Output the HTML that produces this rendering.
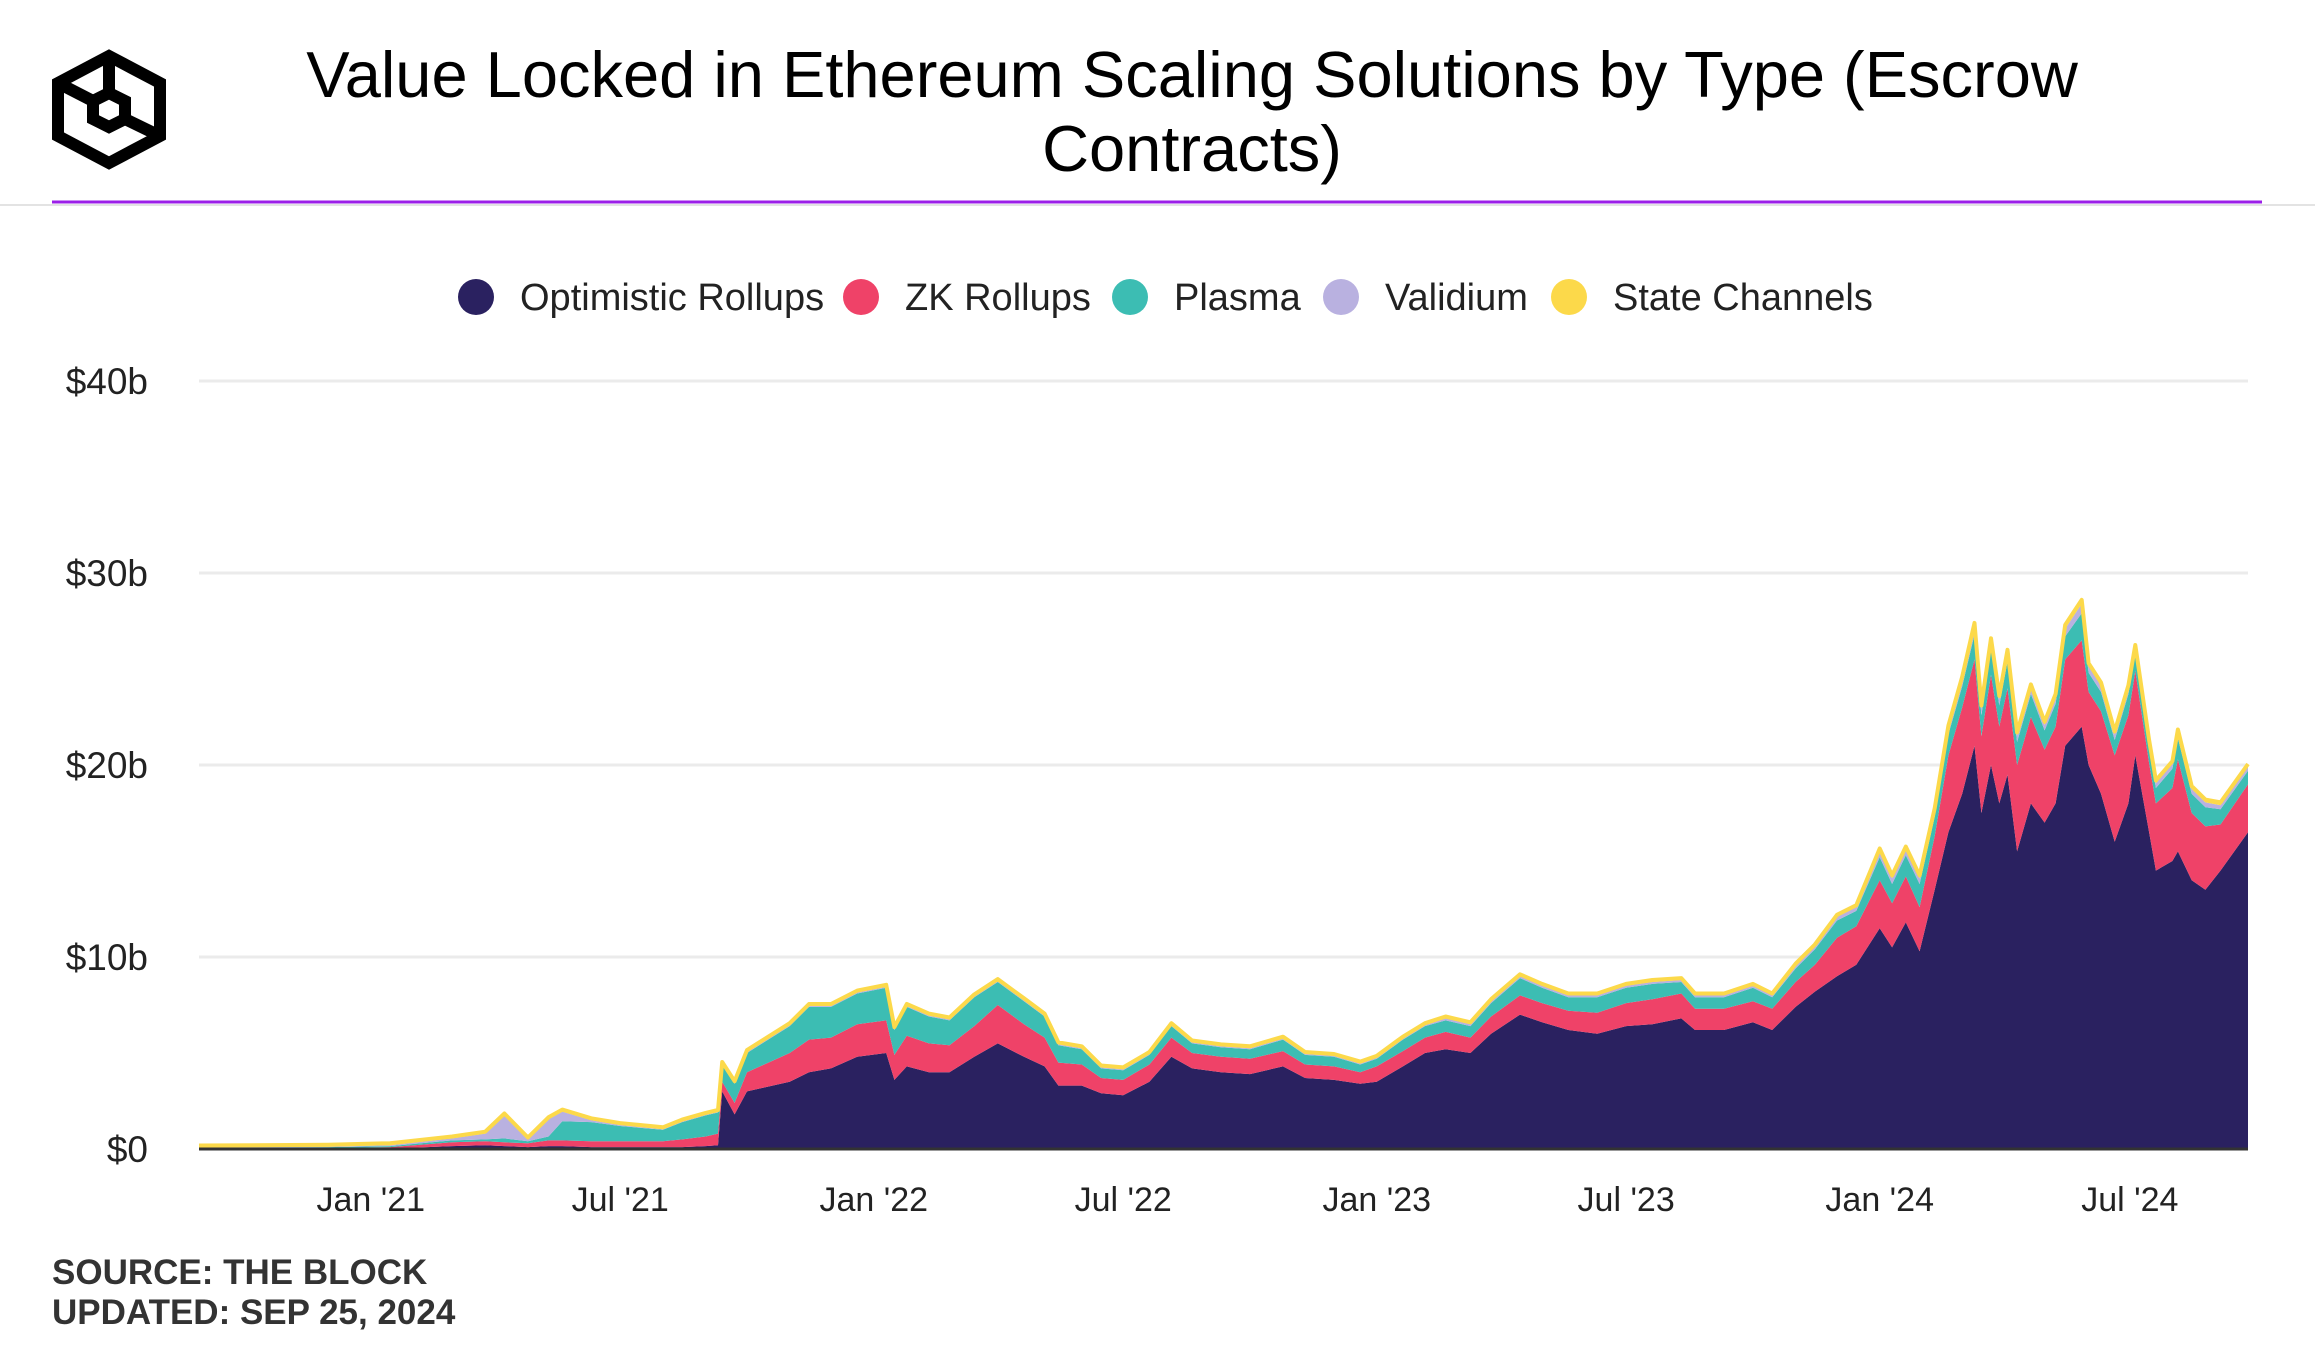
<!DOCTYPE html>
<html><head><meta charset="utf-8"><style>
body{margin:0;width:2315px;height:1350px;background:#fff;overflow:hidden;font-family:"Liberation Sans",sans-serif;}
svg{display:block}
</style></head><body>
<svg id="chart" width="2315" height="1350" viewBox="0 0 2315 1350">
<g fill="none" stroke="#000" stroke-width="12" stroke-linejoin="miter">
<polygon points="109,56 160,83 160,136 109,163 58,136 58,83"/>
<polygon points="109,93 125,101 125,119 109,127 93,119 93,101"/>
<line x1="109" y1="56" x2="109" y2="93"/><line x1="58" y1="83" x2="93" y2="101"/><line x1="160" y1="136" x2="125" y2="119"/>
</g>
<text x="1192" y="97" font-size="65" text-anchor="middle" fill="#000">Value Locked in Ethereum Scaling Solutions by Type (Escrow</text>
<text x="1192" y="171" font-size="65" text-anchor="middle" fill="#000">Contracts)</text>
<line x1="0" y1="205" x2="2315" y2="205" stroke="#e3e3e3" stroke-width="2"/>
<line x1="52" y1="202" x2="2262" y2="202" stroke="#9b1fe8" stroke-width="3"/>
<g id="legend" fill="#222"></g>
<g id="grid"></g>
<g id="areas"></g>
<g id="xaxis"></g>
<g id="yaxis"></g>
<text x="52" y="1284" font-size="35" font-weight="bold" fill="#333">SOURCE: THE BLOCK</text>
<text x="52" y="1324" font-size="35" font-weight="bold" fill="#333">UPDATED: SEP 25, 2024</text>
</svg>
<script>
const dates=["2020-08-29","2020-12-01","2021-01-15","2021-03-01","2021-03-25","2021-04-08","2021-04-25","2021-05-10","2021-05-20","2021-06-10","2021-07-01","2021-08-01","2021-08-15","2021-09-01","2021-09-10","2021-09-13","2021-09-22","2021-10-01","2021-11-01","2021-11-15","2021-12-01","2021-12-20","2022-01-10","2022-01-16","2022-01-25","2022-02-10","2022-02-25","2022-03-15","2022-04-01","2022-04-20","2022-05-05","2022-05-15","2022-06-01","2022-06-15","2022-07-01","2022-07-20","2022-08-05","2022-08-20","2022-09-10","2022-10-01","2022-10-25","2022-11-10","2022-12-01","2022-12-20","2023-01-01","2023-01-20","2023-02-05","2023-02-20","2023-03-10","2023-03-25","2023-04-15","2023-05-01","2023-05-20","2023-06-10","2023-07-01","2023-07-20","2023-08-10","2023-08-20","2023-09-10","2023-10-01","2023-10-15","2023-11-01","2023-11-15","2023-12-01","2023-12-15","2024-01-01","2024-01-10","2024-01-20","2024-01-30","2024-02-10","2024-02-20","2024-03-01","2024-03-10","2024-03-15","2024-03-22","2024-03-28","2024-04-03","2024-04-10","2024-04-20","2024-04-30","2024-05-08","2024-05-15","2024-05-27","2024-06-01","2024-06-10","2024-06-20","2024-06-30","2024-07-05","2024-07-15","2024-07-20","2024-08-01","2024-08-05","2024-08-15","2024-08-25","2024-09-05","2024-09-25"];
const optimistic=[0,0,0.02,0.15,0.2,0.15,0.1,0.15,0.15,0.1,0.1,0.1,0.1,0.15,0.2,3.0,1.8,3.0,3.5,4.0,4.2,4.8,5.0,3.6,4.3,4.0,4.0,4.8,5.5,4.8,4.3,3.3,3.3,2.9,2.8,3.5,4.8,4.2,4.0,3.9,4.3,3.7,3.6,3.4,3.5,4.3,5.0,5.2,5.0,6.0,7.0,6.6,6.2,6.0,6.4,6.5,6.8,6.2,6.2,6.6,6.2,7.4,8.2,9.0,9.6,11.5,10.5,11.8,10.3,13.5,16.5,18.5,21.0,17.5,20.0,18.0,19.5,15.5,18.0,17.0,18.0,21.0,22.0,20.0,18.5,16.0,18.0,20.5,16.5,14.5,15.0,15.5,14.0,13.5,14.5,16.5];
const zk=[0.05,0.05,0.08,0.2,0.2,0.2,0.2,0.3,0.3,0.3,0.3,0.3,0.4,0.5,0.6,0.5,0.6,1.0,1.5,1.7,1.6,1.7,1.7,1.3,1.6,1.5,1.4,1.6,2.0,1.7,1.5,1.2,1.1,0.8,0.8,0.9,1.0,0.8,0.8,0.8,0.8,0.7,0.7,0.6,0.8,0.8,0.8,0.9,0.8,0.9,1.0,1.0,1.0,1.1,1.2,1.3,1.3,1.1,1.1,1.1,1.1,1.3,1.4,2.0,2.0,2.5,2.3,2.4,2.3,2.8,4.0,4.5,4.5,4.0,4.7,4.0,4.5,4.5,4.5,3.8,4.0,4.5,4.5,3.8,4.3,4.5,4.6,4.4,3.6,3.5,3.8,4.8,3.5,3.3,2.4,2.5];
const plasma=[0.03,0.05,0.05,0.1,0.1,0.2,0.1,0.2,1.0,1.0,0.8,0.6,0.9,1.1,1.1,0.9,1.0,1.0,1.4,1.7,1.6,1.6,1.7,1.3,1.5,1.4,1.3,1.5,1.2,1.2,1.1,0.9,0.8,0.5,0.5,0.5,0.6,0.5,0.5,0.5,0.6,0.5,0.5,0.4,0.4,0.6,0.6,0.6,0.6,0.7,0.9,0.8,0.7,0.8,0.8,0.8,0.6,0.6,0.6,0.7,0.6,0.7,0.8,0.9,0.8,1.2,1.0,1.1,1.2,1.0,1.1,1.1,1.3,1.1,1.3,1.1,1.4,1.2,1.2,1.0,1.2,1.2,1.4,1.0,1.0,0.8,1.1,0.9,0.8,0.8,1.0,1.1,1.0,1.0,0.8,0.7];
const validium=[0,0.02,0.05,0.1,0.3,1.2,0.1,0.9,0.5,0.1,0.05,0.03,0.03,0.03,0.03,0.03,0.03,0.05,0.05,0.05,0.05,0.05,0.05,0.05,0.05,0.05,0.05,0.05,0.05,0.05,0.05,0.05,0.05,0.05,0.05,0.05,0.05,0.05,0.05,0.05,0.05,0.05,0.05,0.05,0.05,0.05,0.05,0.1,0.1,0.1,0.1,0.1,0.1,0.1,0.1,0.1,0.1,0.1,0.1,0.1,0.1,0.15,0.15,0.2,0.2,0.3,0.3,0.3,0.3,0.3,0.3,0.35,0.4,0.35,0.4,0.35,0.4,0.35,0.35,0.3,0.35,0.4,0.5,0.35,0.35,0.3,0.3,0.3,0.25,0.25,0.25,0.3,0.25,0.25,0.2,0.2];
const stateChannels=[0.1,0.1,0.1,0.1,0.1,0.1,0.1,0.1,0.1,0.1,0.1,0.1,0.1,0.1,0.1,0.1,0.1,0.1,0.1,0.1,0.1,0.1,0.1,0.1,0.1,0.1,0.1,0.1,0.1,0.1,0.1,0.1,0.1,0.1,0.1,0.1,0.1,0.1,0.1,0.1,0.1,0.1,0.1,0.1,0.1,0.1,0.1,0.1,0.1,0.1,0.1,0.1,0.1,0.1,0.1,0.1,0.1,0.1,0.1,0.1,0.1,0.1,0.1,0.1,0.1,0.15,0.15,0.15,0.15,0.15,0.15,0.15,0.2,0.15,0.2,0.15,0.2,0.15,0.15,0.15,0.15,0.2,0.2,0.15,0.15,0.15,0.15,0.15,0.15,0.15,0.15,0.15,0.15,0.15,0.15,0.15];
const seriesNames=["Optimistic Rollups","ZK Rollups","Plasma","Validium","State Channels"];
const seriesColors=["#2a2160","#ef4268","#3cbdb3","#b9b1e0","#fcd94a"];
const yTicks=[0,10,20,30,40];
const yTickLabels=["$0","$10b","$20b","$30b","$40b"];
const xTickDates=["2021-01-01","2021-07-01","2022-01-01","2022-07-01","2023-01-01","2023-07-01","2024-01-01","2024-07-01"];
const xTickLabels=["Jan '21","Jul '21","Jan '22","Jul '22","Jan '23","Jul '23","Jan '24","Jul '24"];

const NS="http://www.w3.org/2000/svg";
const X0=199,X1=2248,Y0=1149,PXB=19.2;
function yr(s){const d=new Date(s+"T00:00:00Z");const y=d.getUTCFullYear();const st=Date.UTC(y,0,1),en=Date.UTC(y+1,0,1);return y+(d-st)/(en-st);}
const tStart=yr(dates[0]),tEnd=yr("2024-09-25");
function xs(s){return X0+(yr(s)-tStart)/(tEnd-tStart)*(X1-X0);}
function ys(v){return Y0-v*PXB;}
function mk(tag,attrs,parent){const e=document.createElementNS(NS,tag);for(const k in attrs)e.setAttribute(k,attrs[k]);parent.appendChild(e);return e;}

const grid=document.getElementById('grid'),yax=document.getElementById('yaxis'),xax=document.getElementById('xaxis');
yTicks.forEach((v,i)=>{
  if(v>0){const l=mk('line',{x1:X0,x2:X1,y1:ys(v),y2:ys(v),stroke:'#ebebeb','stroke-width':3},grid);
  
  }
  const t=mk('text',{x:148,y:ys(v)+13,'font-size':37,'text-anchor':'end',fill:'#222'},yax);
  t.textContent=yTickLabels[i];
  
  
});
xTickDates.forEach((d,i)=>{
  const t=mk('text',{x:xs(d),y:1211,'font-size':34,'text-anchor':'middle',fill:'#222'},xax);
  t.textContent=xTickLabels[i];
  
  
});
const all=[optimistic,zk,plasma,validium,stateChannels];
const areas=document.getElementById('areas');
let base=dates.map(()=>0);
all.forEach((ser,si)=>{
  const top=base.map((b,i)=>b+ser[i]);
  let d="M"+dates.map((dt,i)=>xs(dt).toFixed(1)+","+ys(top[i]).toFixed(1)).join("L");
  for(let i=dates.length-1;i>=0;i--)d+="L"+xs(dates[i]).toFixed(1)+","+ys(base[i]).toFixed(1);
  d+="Z";
  const p=mk('path',{d:d,fill:seriesColors[si]},areas);
  
  
  if(si===4){
    const ln=mk('path',{d:"M"+dates.map((dt,i)=>xs(dt).toFixed(1)+","+ys(top[i]).toFixed(1)).join("L"),fill:'none',stroke:seriesColors[4],'stroke-width':4,'stroke-linejoin':'round'},areas);
    
    
  }
  base=top;
});
const bl=mk('line',{x1:X0,x2:X1,y1:Y0,y2:Y0,stroke:'#333','stroke-width':3},grid.parentNode);



const legend=document.getElementById('legend');
const lgX=[476,861,1130,1341,1569];
seriesNames.forEach((n,i)=>{
  const g=mk('g',{},legend);
  
  
  mk('circle',{cx:lgX[i],cy:297,r:18,fill:seriesColors[i]},g);
  const t=mk('text',{x:lgX[i]+44,y:310,'font-size':38,fill:'#222'},g);
  t.textContent=n;
});
</script>
</body></html>
